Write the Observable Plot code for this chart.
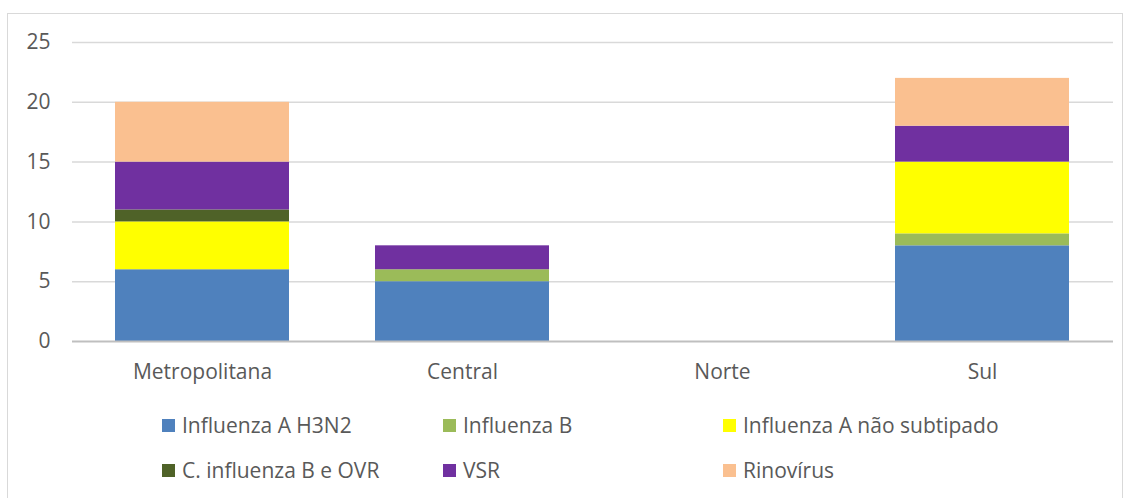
<!DOCTYPE html>
<html>
<head>
<meta charset="utf-8">
<script src="https://cdn.jsdelivr.net/npm/d3@7"></script>
<script src="https://cdn.jsdelivr.net/npm/@observablehq/plot@0.6"></script>
<style>
  html, body { margin: 0; padding: 0; background: #fff; }
  #wrap { position: relative; width: 1131px; height: 498px; overflow: hidden; font-family: "Open Sans", sans-serif; }
  #frame { position: absolute; left: 7px; top: 13px; width: 1116px; height: 500px; border: 1px solid #D9D9D9; box-sizing: border-box; }
  #chart { position: absolute; left: 0; top: 0; }
  #legend { position: absolute; left: 0; top: 0; width: 1131px; height: 498px; pointer-events: none; }
  .item { position: absolute; display: flex; align-items: center; font-size: 21px; color: #595959; white-space: nowrap; }
  .sw { width: 13px; height: 13px; margin-right: 7px; }
</style>
</head>
<body>
<div id="wrap">
  <div id="frame"></div>
  <div id="chart"></div>
  <div id="legend"></div>
</div>
<script>
const categories = ["Metropolitana", "Central", "Norte", "Sul"];
const series = ["Influenza A H3N2", "Influenza B", "Influenza A não subtipado", "C. influenza B e OVR", "VSR", "Rinovírus"];
const colors = ["#4F81BD", "#9BBB59", "#FFFF00", "#4F6228", "#7030A0", "#FAC090"];
const h3n2 = [6, 5, 0, 8];
const infB = [0, 1, 0, 1];
const naoSub = [4, 0, 0, 6];
const cInfB = [1, 0, 0, 0];
const vsr = [4, 2, 0, 3];
const rino = [5, 0, 0, 4];
const yTicks = [0, 5, 10, 15, 20, 25];

const valuesBySeries = [h3n2, infB, naoSub, cInfB, vsr, rino];
const rows = [];
series.forEach((s, si) => {
  categories.forEach((c, ci) => {
    rows.push({ region: c, series: s, value: valuesBySeries[si][ci] });
  });
});

const chart = Plot.plot({
  width: 1131,
  height: 398,
  marginLeft: 72,
  marginRight: 18,
  marginTop: 42,
  marginBottom: 57,
  style: { fontFamily: "'Open Sans', sans-serif", fontSize: "21px", color: "#595959", background: "transparent" },
  x: { domain: categories, paddingInner: 0.33, paddingOuter: 0.165, label: null, tickSize: 0, tickPadding: 23 },
  y: { domain: [0, 25], ticks: yTicks, label: null, tickSize: 0, tickPadding: 22 },
  color: { domain: series, range: colors },
  marks: [
    Plot.ruleY(yTicks.filter(d => d > 0), { stroke: "#D9D9D9", strokeWidth: 1.5 }),
    Plot.barY(rows.filter(d => d.value > 0), { x: "region", y: "value", fill: "series", z: "series", order: series }),
    Plot.ruleY([0], { stroke: "#BFBFBF", strokeWidth: 2 })
  ]
});
chart.querySelectorAll("text").forEach(t => t.setAttribute("fill", "#595959"));
document.getElementById("chart").appendChild(chart);

const legend = document.getElementById("legend");
const legendPos = [[162, 425], [443, 425], [723, 425], [162, 470], [443, 470], [723, 470]];
series.forEach((s, i) => {
  const it = document.createElement("div");
  it.className = "item";
  it.style.left = legendPos[i][0] + "px";
  it.style.top = (legendPos[i][1] - 15) + "px";
  it.style.height = "30px";
  const sw = document.createElement("div");
  sw.className = "sw";
  sw.style.background = colors[i];
  const tx = document.createElement("span");
  tx.textContent = s;
  it.appendChild(sw);
  it.appendChild(tx);
  legend.appendChild(it);
});
</script>
</body>
</html>
